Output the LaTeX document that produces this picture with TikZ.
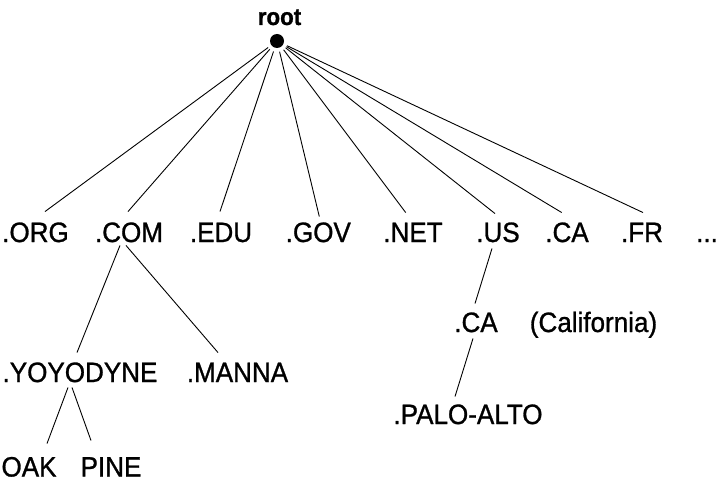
\documentclass[tikz,border=0pt]{standalone}
\usepackage{fontspec}
\setmainfont{Liberation Sans}[FakeStretch=0.93,FakeBold=1]
\begin{document}
\begin{tikzpicture}[x=1pt,y=-1pt,line width=0.9pt,
    dnsname/.style={font=\fontsize{28}{30}\selectfont,inner sep=0pt,
      text height=20pt,text depth=0pt}]
  \useasboundingbox (0,0) rectangle (720,481);
  % root of the tree
  \node[font=\fontsize{24}{26}\selectfont\bfseries,inner sep=0pt,anchor=base]
    (rootlabel) at (279.5,25) {root};
  \node[circle,fill,inner sep=0pt,minimum size=14pt,outer sep=4pt] (root) at (277,41) {};
  % top level domains
  \node[dnsname] (org) at (35.5,232) {.ORG};
  \node[dnsname] (com) at (129,232) {.COM};
  \node[dnsname] (edu) at (221,232) {.EDU};
  \node[dnsname] (gov) at (318.3,232) {.GOV};
  \node[dnsname] (net) at (413,232) {.NET};
  \node[dnsname] (us) at (498,232) {.US};
  \node[dnsname] (ca) at (567,232) {.CA};
  \node[dnsname] (fr) at (642,232) {.FR};
  \node[dnsname] (more) at (707,232) {...};
  % second and third levels
  \node[dnsname] (yoyodyne) at (80,372) {.YOYODYNE};
  \node[dnsname] (manna) at (237.5,372) {.MANNA};
  \node[dnsname] (oak) at (29,466.5) {OAK};
  \node[dnsname] (pine) at (111,466.5) {PINE};
  \node[dnsname] (cal) at (476,322) {.CA};
  \node[dnsname] (calname) at (593.5,322) {(California)};
  \node[dnsname] (paloalto) at (468,414) {.PALO-ALTO};
  % edges
  \draw (root) -- ([xshift=9.5pt,yshift=10pt]org.north);
  \draw (root) -- ([xshift=-1pt,yshift=10pt]com.north);
  \draw (root) -- ([xshift=-1pt,yshift=10pt]edu.north);
  \draw (root) -- ([xshift=1pt,yshift=5pt]gov.north);
  \draw (root) -- ([xshift=-7.3pt,yshift=9pt]net.north);
  \draw (root) -- ([xshift=-3pt,yshift=8pt]us.north);
  \draw (root) -- ([xshift=-5.3pt,yshift=9pt]ca.north);
  \draw (root) -- ([xshift=1pt,yshift=9pt]fr.north);
  \draw ([xshift=-9pt,yshift=-3pt]com.south) -- ([xshift=-3pt,yshift=9pt]yoyodyne.north);
  \draw ([xshift=-3pt,yshift=-3pt]com.south) -- ([xshift=-19.5pt,yshift=9pt]manna.north);
  \draw ([xshift=-12pt,yshift=-5pt]yoyodyne.south) -- ([xshift=18pt,yshift=12.5pt]oak.north);
  \draw ([xshift=-8pt,yshift=-5pt]yoyodyne.south) -- ([xshift=-20pt,yshift=15.5pt]pine.north);
  \draw ([xshift=-6pt,yshift=-6pt]us.south) -- ([xshift=-1pt,yshift=8pt]cal.north);
  \draw ([xshift=-3pt,yshift=-6pt]cal.south) -- ([xshift=-13pt,yshift=7pt]paloalto.north);
\end{tikzpicture}
\end{document}
